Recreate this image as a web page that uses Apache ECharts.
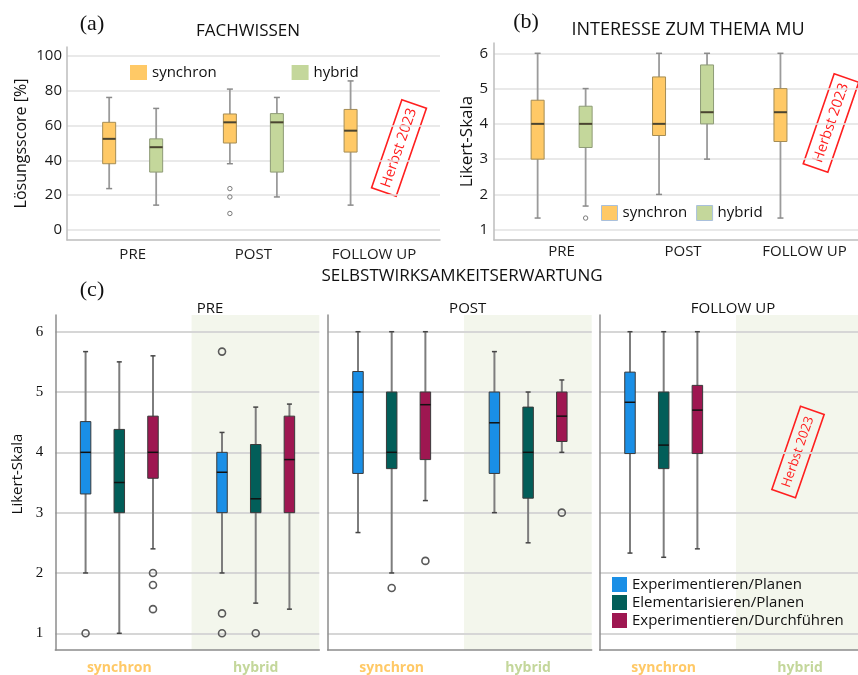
<!DOCTYPE html>
<html><head><meta charset="utf-8">
<script src="https://cdn.jsdelivr.net/npm/echarts@6/dist/echarts.min.js"></script>
<style>html,body{margin:0;padding:0;background:#fff}#chart{width:858px;height:675px}</style>
</head><body><div id="chart"></div>
<script>
// ---------------- data ----------------
const timeCategories = ['PRE', 'POST', 'FOLLOW UP'];
const groupCategories = ['synchron', 'hybrid'];
const scaleNames = ['Experimentieren/Planen', 'Elementarisieren/Planen', 'Experimentieren/Durchführen'];
const fachTicks = [0, 20, 40, 60, 80, 100];
const likertTicks = [1, 2, 3, 4, 5, 6];

// box = [min, Q1, median, Q3, max]
const fachSynchron = [[23.8, 38.1, 52.4, 61.9, 76.2], [38.1, 50.0, 61.9, 66.7, 81.0], [14.3, 44.8, 57.1, 69.3, 85.7]];
const fachHybrid = [[14.3, 33.3, 47.6, 52.4, 69.9], [19.0, 33.3, 61.9, 66.9, 76.2]];
const fachSynchronOutliers = [[1, 23.8], [1, 19.0], [1, 9.5]];   // [time index, value]
const fachHybridOutliers = [];

const interesseSynchron = [[1.33, 3.0, 4.0, 4.67, 6.0], [2.0, 3.67, 4.0, 5.33, 6.0], [1.33, 3.5, 4.33, 5.0, 6.0]];
const interesseHybrid = [[1.67, 3.33, 4.0, 4.5, 5.0], [3.0, 4.0, 4.33, 5.67, 6.0]];
const interesseSynchronOutliers = [];
const interesseHybridOutliers = [[0, 1.33]];

// per group: one box per scale (Experimentieren/Planen, Elementarisieren/Planen, Experimentieren/Durchführen)
const sePreSynchron = [[2.0, 3.31, 4.0, 4.51, 5.67], [1.0, 3.0, 3.5, 4.38, 5.5], [2.4, 3.57, 4.0, 4.6, 5.6]];
const sePreHybrid = [[2.0, 3.0, 3.67, 4.0, 4.33], [1.5, 3.0, 3.23, 4.13, 4.75], [1.4, 3.0, 3.88, 4.6, 4.8]];
const sePostSynchron = [[2.67, 3.65, 5.0, 5.34, 6.0], [2.0, 3.73, 4.0, 5.0, 6.0], [3.2, 3.88, 4.79, 5.0, 6.0]];
const sePostHybrid = [[3.0, 3.65, 4.49, 5.0, 5.67], [2.5, 3.24, 4.0, 4.75, 5.0], [4.0, 4.18, 4.6, 5.0, 5.2]];
const seFollowSynchron = [[2.33, 3.98, 4.83, 5.33, 6.0], [2.26, 3.73, 4.12, 5.0, 6.0], [2.4, 3.98, 4.7, 5.11, 6.0]];
const seFollowHybrid = [];
// [group index, scale index, value]
const sePreOutliers = [[0, 0, 1.0], [0, 2, 2.0], [0, 2, 1.8], [0, 2, 1.4], [1, 0, 5.67], [1, 0, 1.33], [1, 0, 1.0], [1, 1, 1.0]];
const sePostOutliers = [[0, 1, 1.75], [0, 2, 2.2], [1, 2, 3.0]];
const seFollowOutliers = [];

// ---------------- styling ----------------
const FONT = '"Open Sans", "Noto Sans", sans-serif';
const SERIF = '"Liberation Serif", "DejaVu Serif", serif';
const C_SYNC = '#FFC966', C_HYB = '#C4D79B';
const C_SCALES = ['#1A8FE6', '#025E59', '#9E1751'];
const RED = '#FF1F1F';
const HYBRID_BG_FROM = 0.53;

const stAB = { whisker: '#9b9b9b', whiskerWidth: 1.8, capColor: '#8a8a8a', capWidth: 1.5, cap: 3,
  borderWidth: 1, median: '#4a4430', medianWidth: 2 };
const stC = { whisker: '#7d7d7d', whiskerWidth: 2, capColor: '#444', capWidth: 1.5, cap: 2.5,
  borderWidth: 1, median: '#111', medianWidth: 1.5 };

function boxRenderer(offset, width, st, border) {
  return function (params, api) {
    const x = api.value(0);
    const ys = [1, 2, 3, 4, 5].map(i => api.coord([x, api.value(i)])[1]);
    const cx = api.coord([x, api.value(1)])[0] + offset;
    const [yMin, yQ1, yMed, yQ3, yMax] = ys;
    const c = st.cap, hw = width / 2;
    return { type: 'group', children: [
      { type: 'line', shape: { x1: cx, y1: yMin, x2: cx, y2: yMax }, style: { stroke: st.whisker, lineWidth: st.whiskerWidth } },
      { type: 'line', shape: { x1: cx - c, y1: yMin, x2: cx + c, y2: yMin }, style: { stroke: st.capColor, lineWidth: st.capWidth } },
      { type: 'line', shape: { x1: cx - c, y1: yMax, x2: cx + c, y2: yMax }, style: { stroke: st.capColor, lineWidth: st.capWidth } },
      { type: 'rect', shape: { x: cx - hw, y: yQ3, width: width, height: yQ1 - yQ3 },
        style: { fill: api.visual('color'), stroke: border, lineWidth: st.borderWidth } },
      { type: 'line', shape: { x1: cx - hw, y1: yMed, x2: cx + hw, y2: yMed }, style: { stroke: st.median, lineWidth: st.medianWidth } }
    ] };
  };
}
function boxSeries(name, boxes, axis, offset, width, st, color, border) {
  return { type: 'custom', name, xAxisIndex: axis, yAxisIndex: axis, z: 3,
    itemStyle: { color }, encode: { x: 0, y: [1, 2, 3, 4, 5] },
    data: boxes.map((b, i) => [i].concat(b)),
    renderItem: boxRenderer(offset, width, st, border) };
}
function outlierSeries(points, axis, offsetFn, r, stroke, lw) {
  return { type: 'custom', name: 'outliers', xAxisIndex: axis, yAxisIndex: axis, z: 4,
    encode: { x: 0, y: points.length && points[0].length === 3 ? 2 : 1 },
    data: points,
    renderItem: function (params, api) {
      const three = points[params.dataIndex].length === 3;
      const p = api.coord([api.value(0), api.value(three ? 2 : 1)]);
      const cx = p[0] + offsetFn(api, three);
      return { type: 'circle', shape: { cx, cy: p[1], r }, style: { fill: 'none', stroke, lineWidth: lw } };
    } };
}
function bgSeries(axis) {
  return { type: 'custom', xAxisIndex: axis, yAxisIndex: axis, z: -1, silent: true, data: [[0]],
    renderItem: function (params, api) {
      const cs = params.coordSys;
      const x0 = api.coord([HYBRID_BG_FROM, 1])[0];
      return { type: 'rect', shape: { x: x0, y: cs.y, width: cs.x + cs.width - x0, height: cs.height },
        style: { fill: '#F3F6EC' } };
    } };
}

const grids = [
  { left: 67, top: 47, width: 373, height: 193 },
  { left: 494, top: 43, width: 364, height: 197 },
  { left: 55.3, top: 315, width: 264, height: 335 },
  { left: 327.7, top: 315, width: 264, height: 335 },
  { left: 599.7, top: 315, width: 264, height: 335 }
].map(g => Object.assign({ outerBoundsMode: 'none', containLabel: false }, g));

const abAxisLine = { show: true, onZero: false, lineStyle: { color: '#BDBDBD', width: 1.5 } };
const cAxisLine = { show: true, onZero: false, lineStyle: { color: '#8c8c8c', width: 1.5 } };

const xAxes = [
  { gridIndex: 0, type: 'value', min: -0.544, max: 2.546, axisLine: abAxisLine, axisTick: { show: false, customValues: [0, 1, 2] },
    splitLine: { show: false },
    axisLabel: { customValues: [0, 1, 2], formatter: v => timeCategories[v], fontFamily: FONT, fontSize: 15, color: '#1a1a1a', margin: 7 } },
  { gridIndex: 1, type: 'value', min: -0.557, max: 2.441, axisLine: abAxisLine, axisTick: { show: false, customValues: [0, 1, 2] },
    splitLine: { show: false },
    axisLabel: { customValues: [0, 1, 2], formatter: v => timeCategories[v], fontFamily: FONT, fontSize: 15, color: '#1a1a1a', margin: 4 } }
];
for (let k = 0; k < 3; k++) {
  xAxes.push({ gridIndex: 2 + k, type: 'value', min: -0.469, max: 1.466, axisLine: cAxisLine,
    axisTick: { show: false, customValues: [0, 1] }, splitLine: { show: false },
    axisLabel: { customValues: [0, 1], margin: 11,
      formatter: v => (v === 0 ? '{s|' : '{h|') + groupCategories[v] + '}',
      rich: { s: { color: C_SYNC, fontWeight: 'bold', fontSize: 14, fontFamily: FONT },
              h: { color: C_HYB, fontWeight: 'bold', fontSize: 14, fontFamily: FONT } } } });
}
const yAxes = [
  { gridIndex: 0, type: 'value', min: -5.75, max: 105.2, axisLine: abAxisLine,
    axisTick: { show: false, customValues: fachTicks },
    splitLine: { show: true, lineStyle: { color: '#E2E2E2', width: 1.5 } },
    axisLabel: { customValues: fachTicks, fontFamily: FONT, fontSize: 15, color: '#1a1a1a', margin: 5 },
    name: 'Lösungsscore [%]', nameLocation: 'middle', nameRotate: 90, nameGap: 38,
    nameTextStyle: { fontFamily: FONT, fontSize: 16, color: '#111' } },
  { gridIndex: 1, type: 'value', min: 0.708, max: 6.292, axisLine: abAxisLine,
    axisTick: { show: false, customValues: likertTicks },
    splitLine: { show: true, lineStyle: { color: '#E2E2E2', width: 1.5 } },
    axisLabel: { customValues: likertTicks, fontFamily: FONT, fontSize: 15, color: '#1a1a1a', margin: 6 },
    name: 'Likert-Skala', nameLocation: 'middle', nameRotate: 90, nameGap: 14,
    nameTextStyle: { fontFamily: FONT, fontSize: 17, color: '#111' } }
];
for (let k = 0; k < 3; k++) {
  yAxes.push({ gridIndex: 2 + k, type: 'value', min: 0.723, max: 6.277, axisLine: cAxisLine,
    axisTick: { show: false, customValues: likertTicks },
    splitLine: { show: true, lineStyle: { color: '#D6D6D6', width: 2 } },
    axisLabel: { show: k === 0, customValues: likertTicks, fontFamily: SERIF, fontSize: 15, color: '#111', margin: 12 },
    name: k === 0 ? 'Likert-Skala' : '', nameLocation: 'middle', nameRotate: 90, nameGap: 30,
    nameTextStyle: { fontFamily: FONT, fontSize: 15, color: '#111', padding: [0, 0, 0, 17] } });
}

const series = [
  boxSeries('synchron', fachSynchron, 0, -23.5, 13, stAB, C_SYNC, '#A58D55'),
  boxSeries('hybrid', fachHybrid, 0, 23.5, 13, stAB, C_HYB, '#8E9B76'),
  outlierSeries(fachSynchronOutliers, 0, () => -23.5, 2.2, '#7a7a7a', 1),
  outlierSeries(fachHybridOutliers, 0, () => 23.5, 2.2, '#7a7a7a', 1),
  boxSeries('synchron', interesseSynchron, 1, -24, 13, stAB, C_SYNC, '#A58D55'),
  boxSeries('hybrid', interesseHybrid, 1, 24, 13, stAB, C_HYB, '#8E9B76'),
  outlierSeries(interesseSynchronOutliers, 1, () => -24, 2.2, '#7a7a7a', 1),
  outlierSeries(interesseHybridOutliers, 1, () => 24, 2.2, '#7a7a7a', 1)
];
const panels = [
  { sync: sePreSynchron, hyb: sePreHybrid, out: sePreOutliers },
  { sync: sePostSynchron, hyb: sePostHybrid, out: sePostOutliers },
  { sync: seFollowSynchron, hyb: seFollowHybrid, out: seFollowOutliers }
];
const SCALE_STEP = 33.7;
panels.forEach((p, k) => {
  const axis = 2 + k;
  series.push(bgSeries(axis));
  for (let s = 0; s < 3; s++) {
    const boxes = [p.sync[s]];
    if (p.hyb.length) boxes.push(p.hyb[s]);
    series.push(boxSeries(scaleNames[s], boxes, axis, (s - 1) * SCALE_STEP, 10.5, stC, C_SCALES[s], '#3a3a3a'));
  }
  series.push(outlierSeries(p.out, axis, (api) => (api.value(1) - 1) * SCALE_STEP, 3.5, '#5a5a5a', 1.6));
});

function txt(text, x, y, size, family, extra) {
  return Object.assign({ type: 'text', x, y, silent: true,
    style: { text, font: size + 'px ' + (family || FONT), fill: '#111', align: 'center', verticalAlign: 'middle' } }, extra || {});
}
function stamp(x, y, w, h, size) {
  return { type: 'group', x, y, rotation: 71 * Math.PI / 180, silent: true, children: [
    { type: 'rect', shape: { x: -w / 2, y: -h / 2, width: w, height: h }, style: { fill: 'rgba(255,255,255,0)', stroke: RED, lineWidth: 1.6 } },
    { type: 'text', x: 0, y: 0, style: { text: 'Herbst 2023', font: size + 'px ' + FONT, fill: RED, align: 'center', verticalAlign: 'middle' } }
  ] };
}

const legendText = { fontFamily: FONT, fontSize: 15, color: '#111' };
const option = {
  animation: false,
  backgroundColor: '#ffffff',
  grid: grids,
  xAxis: xAxes,
  yAxis: yAxes,
  legend: [
    { data: ['synchron', 'hybrid'], left: 130, top: 65, padding: 0, icon: 'rect', itemWidth: 17, itemHeight: 15,
      itemGap: 75, selectedMode: false, textStyle: legendText },
    { data: ['synchron', 'hybrid'], left: 601, top: 205, padding: 0, icon: 'rect', itemWidth: 16, itemHeight: 15,
      itemGap: 9, selectedMode: false, textStyle: legendText, itemStyle: { borderColor: '#A9C0DC', borderWidth: 1 } },
    { data: scaleNames, orient: 'vertical', left: 612, top: 577, padding: 0, icon: 'rect', itemWidth: 15, itemHeight: 15,
      itemGap: 3, selectedMode: false, textStyle: legendText }
  ],
  graphic: { elements: [
    txt('(a)', 92, 24, 22, SERIF),
    txt('(b)', 526, 22, 22, SERIF),
    txt('(c)', 92, 290, 22, SERIF),
    txt('FACHWISSEN', 248, 31, 17),
    txt('INTERESSE ZUM THEMA MU', 688, 30, 18),
    txt('SELBSTWIRKSAMKEITSERWARTUNG', 462, 276, 17),
    txt('PRE', 210, 309, 15),
    txt('POST', 467.7, 309, 15),
    txt('FOLLOW UP', 733, 309, 15),
    stamp(399, 148, 93, 26, 14.5),
    stamp(831, 123, 95, 26, 14.5),
    stamp(798, 452, 88, 25, 13)
  ] },
  series
};
const chart = echarts.init(document.getElementById('chart'), null, { renderer: 'canvas' });
chart.setOption(option);
</script></body></html>
